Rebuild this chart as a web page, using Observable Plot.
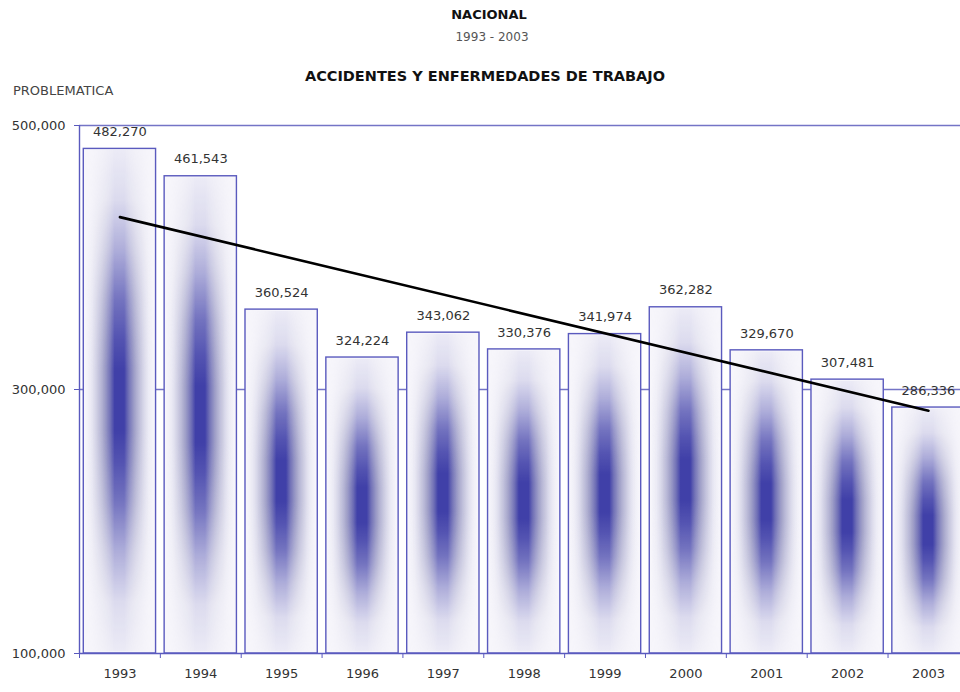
<!DOCTYPE html>
<html><head><meta charset="utf-8">
<script src="https://cdn.jsdelivr.net/npm/d3@7"></script>
<script src="https://cdn.jsdelivr.net/npm/@observablehq/plot@0.6"></script>
<style>
html,body{margin:0;padding:0;background:#fff;overflow:hidden;}
#wrap{position:relative;width:960px;height:692px;font-family:"DejaVu Sans",sans-serif;}
.t{position:absolute;transform:translate(-50%,-50%);white-space:nowrap;}
#chart{position:absolute;left:0;top:100px;}
</style></head><body>
<div id="wrap">
  <div class="t" id="t1" style="left:489px;top:14px;font-weight:bold;font-size:13px;color:#111"></div>
  <div class="t" id="t2" style="left:492px;top:37px;font-size:12px;color:#555"></div>
  <div class="t" id="t3" style="left:485px;top:76px;font-weight:bold;font-size:14.5px;color:#111"></div>
  <div class="t" id="t4" style="left:13px;top:90px;transform:translate(0,-50%);font-size:13px;color:#444"></div>
  <div id="chart"></div>
</div>
<script>
// ---- data ----
const years = [1993, 1994, 1995, 1996, 1997, 1998, 1999, 2000, 2001, 2002, 2003];
const values = [482270, 461543, 360524, 324224, 343062, 330376, 341974, 362282, 329670, 307481, 286336];
const yTicks = [100000, 300000, 500000];
const titleTop = "NACIONAL";
const subTitle = "1993 - 2003";
const chartTitle = "ACCIDENTES Y ENFERMEDADES DE TRABAJO";
const yLabel = "PROBLEMATICA";

document.getElementById("t1").textContent = titleTop;
document.getElementById("t2").textContent = subTitle;
document.getElementById("t3").textContent = chartTitle;
document.getElementById("t4").textContent = yLabel;

const data = years.map((year, i) => ({year, value: values[i]}));
const bounds = years.map(y => y - 0.5);
const fmt = d3.format(",");
const axisBlue = "#5a5abe";
const gridBlue = "#7474c6";
const half = 0.447;

const chart = Plot.plot({
  width: 960,
  height: 592,
  marginTop: 25,
  marginBottom: 39,
  marginLeft: 79,
  marginRight: 0,
  x: {domain: [1992.5, 2003.5], range: [79, 968.4], label: null},
  y: {domain: [100000, 500000], label: null},
  style: {fontFamily: "DejaVu Sans, sans-serif", fontSize: "13px", background: "white", overflow: "hidden"},
  marks: [
    Plot.ruleY([300000, 500000], {stroke: gridBlue, strokeWidth: 1.4}),
    Plot.rect(data, {x1: d => d.year - half, x2: d => d.year + half, y1: 100000, y2: "value",
      fill: "#f7f6fb", stroke: axisBlue, strokeWidth: 1.4}),
    Plot.rect(data, {x1: d => d.year - half, x2: d => d.year + half, y1: 100000, y2: "value",
      fill: "url(#barGlow)", inset: 1.5}),
    Plot.ruleY([100000], {stroke: axisBlue, strokeWidth: 1.4}),
    Plot.ruleX([1992.5], {y1: 100000, y2: 500000, stroke: axisBlue, strokeWidth: 1.4}),
    Plot.linearRegressionY(data, {x: "year", y: "value", ci: 0, stroke: "#000", strokeWidth: 2.6}),
    Plot.text(data, {x: "year", y: "value", text: d => fmt(d.value), dy: -17, fill: "#333", fontSize: 13}),
    Plot.axisY({ticks: yTicks, tickFormat: d => fmt(d), tickSize: 5, tickPadding: 9, stroke: axisBlue, fill: "#333", fontSize: 13, label: null}),
    Plot.axisX({ticks: bounds, tickSize: 5, tickFormat: () => "", stroke: axisBlue, label: null}),
    Plot.axisX({ticks: years, tickSize: 0, tickPadding: 15, tickFormat: d => String(d), fill: "#333", fontSize: 13, label: null})
  ]
});

const svg = d3.select(chart);
const defs = svg.insert("defs", ":first-child");
const hg = defs.append("linearGradient").attr("id", "barGlow").attr("x1", 0).attr("x2", 1).attr("y1", 0).attr("y2", 0);
[[0, "#d0d0ea", 0], [0.08, "#c4c4e0", 0.22], [0.18, "#a8a8cc", 0.55], [0.28, "#8c8cbc", 0.8],
 [0.37, "#6464b0", 0.93], [0.43, "#4040a8", 1], [0.57, "#4040a8", 1], [0.63, "#6464b0", 0.93],
 [0.72, "#8c8cbc", 0.8], [0.82, "#a8a8cc", 0.55], [0.92, "#c4c4e0", 0.22], [1, "#d0d0ea", 0]].forEach(([o, c, a]) =>
  hg.append("stop").attr("offset", o).attr("stop-color", c).attr("stop-opacity", a));
const vg = defs.append("linearGradient").attr("id", "barVG").attr("x1", 0).attr("x2", 0).attr("y1", 0).attr("y2", 1);
[[0, 0.06], [0.1, 0.15], [0.2, 0.4], [0.3, 0.72], [0.38, 0.9], [0.44, 1],
 [0.56, 1], [0.62, 0.9], [0.7, 0.72], [0.8, 0.4], [0.9, 0.15], [1, 0.06]].forEach(([o, l]) => {
  const v = Math.round(l * 255);
  vg.append("stop").attr("offset", o).attr("stop-color", `rgb(${v},${v},${v})`);
});
defs.append("mask").attr("id", "barV").attr("maskContentUnits", "objectBoundingBox")
  .append("rect").attr("x", 0).attr("y", 0).attr("width", 1).attr("height", 1).attr("fill", "url(#barVG)");
const rectGroups = svg.selectAll('g[aria-label="rect"]').nodes();
if (rectGroups.length > 1) d3.select(rectGroups[1]).selectAll("rect").attr("mask", "url(#barV)");

document.getElementById("chart").appendChild(chart);
</script>
</body></html>
